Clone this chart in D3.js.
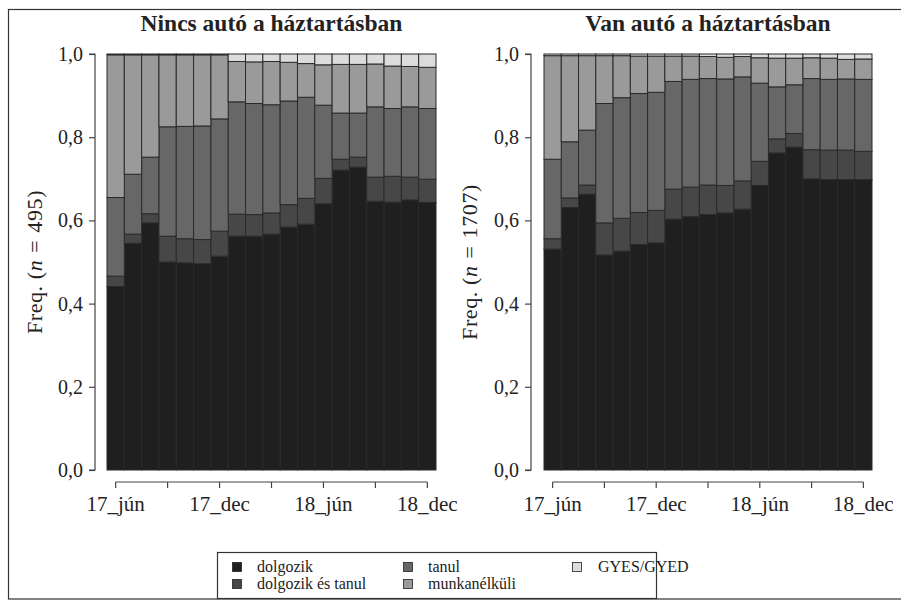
<!DOCTYPE html>
<html><head><meta charset="utf-8">
<script src="https://cdn.jsdelivr.net/npm/d3@7"></script>
<style>body{margin:0;background:#fff}svg{display:block}svg text{font-family:"Liberation Serif","DejaVu Serif",serif !important;fill:#222}</style>
</head><body><svg id="c" width="901" height="601"></svg>
<script>
const months = ["17_jún","17_júl","17_aug","17_szept","17_okt","17_nov","17_dec","18_jan","18_febr","18_márc","18_ápr","18_máj","18_jún","18_júl","18_aug","18_szept","18_okt","18_nov","18_dec"];
const tickMonths = ["17_jún","17_szept","17_dec","18_márc","18_jún","18_szept","18_dec"];
const labelMonths = ["17_jún","17_dec","18_jún","18_dec"];
const categories = ["dolgozik","dolgozik és tanul","tanul","munkanélküli","GYES/GYED"];
const colors = ["#1f1f1f","#474747","#676767","#9a9a9a","#dcdcdc"];
const yTicks = [0,0.2,0.4,0.6,0.8,1.0];

// Nincs autó a háztartásban (n = 495)
const noCar_dolgozik = [0.441,0.545,0.594,0.500,0.498,0.496,0.514,0.562,0.562,0.567,0.584,0.591,0.640,0.721,0.728,0.646,0.644,0.649,0.643];
const noCar_dolgTanul = [0.025,0.022,0.022,0.062,0.058,0.058,0.060,0.053,0.052,0.051,0.054,0.062,0.061,0.026,0.024,0.058,0.062,0.055,0.056];
const noCar_tanul = [0.189,0.144,0.136,0.263,0.270,0.273,0.270,0.270,0.267,0.260,0.249,0.243,0.176,0.111,0.106,0.169,0.163,0.169,0.170];
const noCar_munkanelkuli = [0.343,0.287,0.246,0.173,0.172,0.171,0.154,0.097,0.100,0.104,0.093,0.081,0.097,0.117,0.117,0.103,0.102,0.097,0.099];
const noCar_gyes = [0.002,0.002,0.002,0.002,0.002,0.002,0.002,0.018,0.019,0.018,0.020,0.023,0.026,0.025,0.025,0.024,0.029,0.030,0.032];

// Van autó a háztartásban (n = 1707)
const car_dolgozik = [0.531,0.631,0.663,0.517,0.526,0.542,0.546,0.603,0.609,0.614,0.618,0.627,0.684,0.762,0.776,0.700,0.698,0.698,0.698];
const car_dolgTanul = [0.025,0.023,0.022,0.077,0.079,0.077,0.078,0.072,0.071,0.071,0.066,0.068,0.058,0.034,0.033,0.070,0.071,0.071,0.068];
const car_tanul = [0.191,0.135,0.132,0.287,0.290,0.286,0.284,0.259,0.259,0.256,0.256,0.250,0.188,0.125,0.117,0.171,0.170,0.171,0.173];
const car_munkanelkuli = [0.249,0.207,0.179,0.115,0.101,0.090,0.087,0.061,0.056,0.053,0.052,0.049,0.061,0.069,0.064,0.050,0.051,0.047,0.049];
const car_gyes = [0.004,0.004,0.004,0.004,0.004,0.005,0.005,0.005,0.005,0.006,0.008,0.006,0.009,0.010,0.010,0.009,0.010,0.013,0.012];

const panels = [
  {title:"Nincs autó a háztartásban", n:"495", series:[noCar_dolgozik,noCar_dolgTanul,noCar_tanul,noCar_munkanelkuli,noCar_gyes], x0:107, x1:436, axX:95, labX:42},
  {title:"Van autó a háztartásban", n:"1707", series:[car_dolgozik,car_dolgTanul,car_tanul,car_munkanelkuli,car_gyes], x0:544, x1:872, axX:531, labX:477}
];

const svg = d3.select("#c");
svg.append("rect").attr("x",8.5).attr("y",9.5).attr("width",900).attr("height",589.5)
  .attr("fill","none").attr("stroke","#333").attr("stroke-width",1.2);

const yTop = 54, yBot = 470;
const y = d3.scaleLinear().domain([0,1]).range([yBot,yTop]);
const fmt = d => d3.format(".1f")(d).replace(".",",");

panels.forEach(p => {
  const g = svg.append("g");
  const x = d3.scaleBand().domain(months).range([p.x0,p.x1]).padding(0);
  const rows = months.map((m,i) => {const o={month:m}; categories.forEach((c,k)=>o[c]=p.series[k][i]); return o;});
  const stack = d3.stack().keys(categories)(rows);
  stack.forEach((layer,k) => {
    g.append("g").selectAll("rect").data(layer).join("rect")
      .attr("x", d => x(d.data.month))
      .attr("width", x.bandwidth())
      .attr("y", d => y(d[1]))
      .attr("height", d => y(d[0]) - y(d[1]))
      .attr("fill", colors[k])
      .attr("stroke","#2a2a2a").attr("stroke-width",1);
  });
  // y axis (R style)
  const ya = g.append("g").attr("transform",`translate(${p.axX},0)`)
    .call(d3.axisLeft(y).tickValues(yTicks).tickFormat(fmt).tickSize(6).tickPadding(6));
  ya.attr("font-family",null).attr("font-size",null);
  ya.select(".domain").attr("d",`M-6,${y(0)}H0V${y(1)}H-6`).attr("stroke","#444").attr("stroke-width",1.2);
  ya.selectAll(".tick line").attr("stroke","#444").attr("stroke-width",1.2);
  ya.selectAll(".tick text").attr("font-size",20).attr("fill","#222");
  // x axis
  const xc = m => x(m) + x.bandwidth()/2;
  const xa = g.append("g").attr("transform",`translate(0,482)`);
  xa.append("line").attr("x1",xc(tickMonths[0])).attr("x2",xc(tickMonths[tickMonths.length-1]))
    .attr("stroke","#444").attr("stroke-width",1.2);
  xa.selectAll("line.t").data(tickMonths).join("line").attr("class","t")
    .attr("x1",xc).attr("x2",xc).attr("y1",0).attr("y2",6).attr("stroke","#444").attr("stroke-width",1.2);
  xa.selectAll("text").data(labelMonths).join("text")
    .attr("x",xc).attr("y",29).attr("text-anchor","middle").attr("font-size",21).text(d=>d);
  // title
  g.append("text").attr("x",(p.x0+p.x1)/2).attr("y",31).attr("text-anchor","middle")
    .attr("font-size",23.5).attr("font-weight","bold").text(p.title);
  // y label
  const yl = g.append("text").attr("transform",`translate(${p.labX},${(yTop+yBot)/2}) rotate(-90)`)
    .attr("text-anchor","middle").attr("font-size",22).attr("letter-spacing",0.6);
  yl.append("tspan").text("Freq. (");
  yl.append("tspan").attr("font-style","italic").text("n");
  yl.append("tspan").attr("dx",7).text("=");
  yl.append("tspan").attr("dx",7).text(p.n + ")");
});

// legend
const lg = svg.append("g");
lg.append("rect").attr("x",217.5).attr("y",552.5).attr("width",439).attr("height",46)
  .attr("fill","#fff").attr("stroke","#333").attr("stroke-width",1.2);
const legPos = [[237,567],[237,584],[408,567],[408,584],[577,567]];
categories.forEach((c,k) => {
  const [cx,cy] = legPos[k];
  lg.append("rect").attr("x",cx-4.5).attr("y",cy-4.5).attr("width",9).attr("height",9)
    .attr("fill",colors[k]).attr("stroke","#222").attr("stroke-width",0.8);
  lg.append("text").attr("x",cx+(k===4?21:20)).attr("y",cy+5).attr("font-size",16).text(c);
});
</script></body></html>
